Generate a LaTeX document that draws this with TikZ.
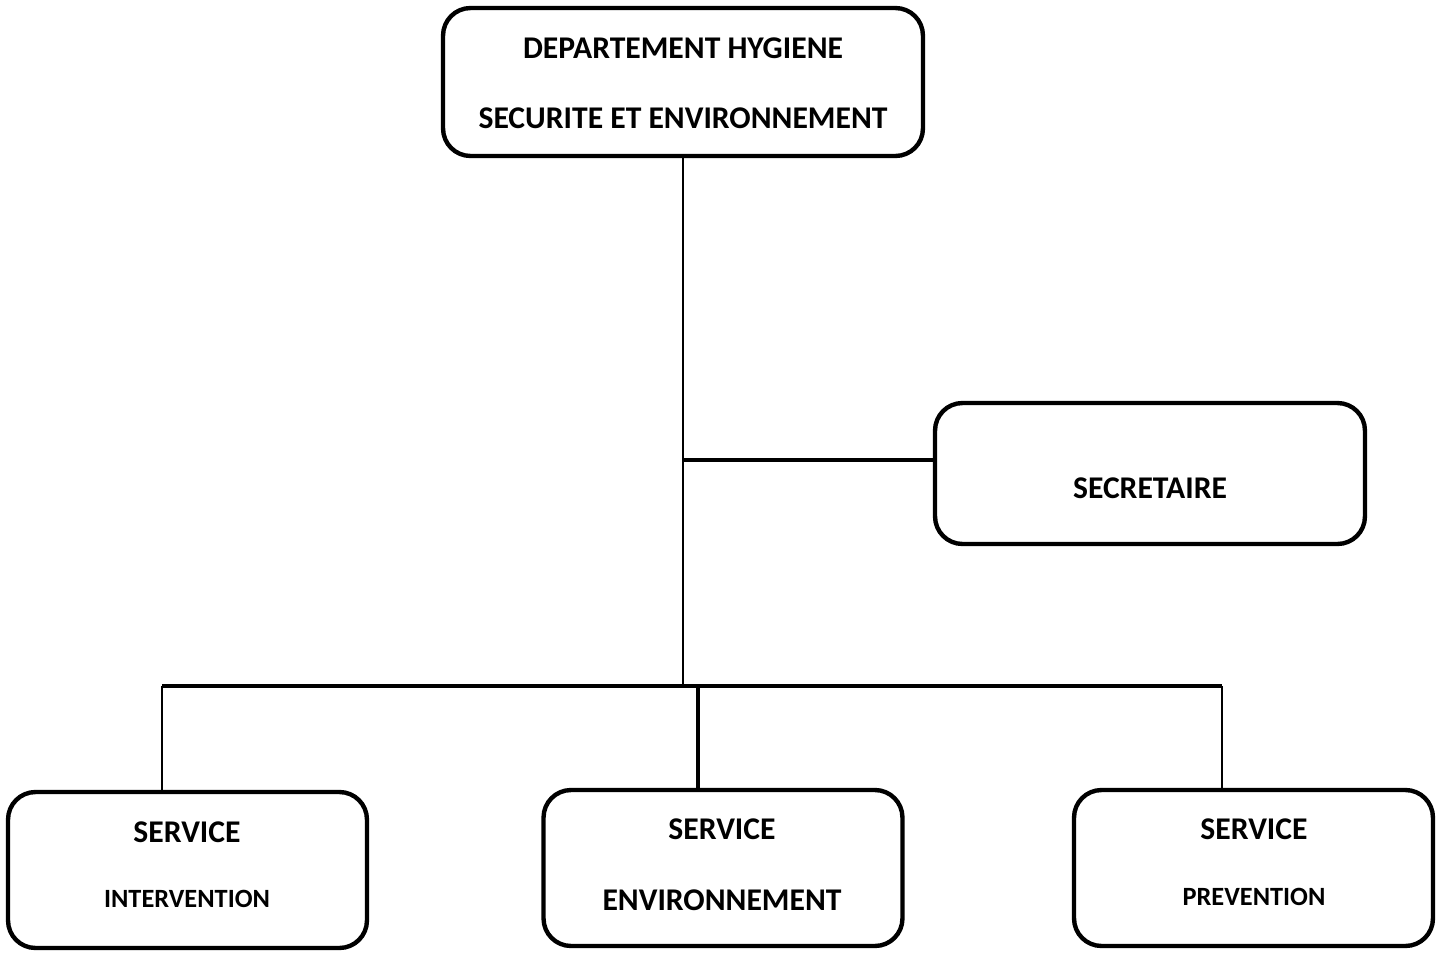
\documentclass[tikz,border=0pt]{standalone}
\usepackage{fontspec}
\setmainfont{Carlito}
\tikzset{
  unitbox/.style={draw, line width=2.5pt, rounded corners=0.55cm, inner sep=0pt},
  lbl/.style={font=\bfseries\fontsize{18}{20}\selectfont, inner sep=0pt},
  lblsmall/.style={font=\bfseries\fontsize{15}{17}\selectfont, inner sep=0pt},
  link/.style={line width=1.2pt},
  bus/.style={line width=1.8pt}
}
\begin{document}
\begin{tikzpicture}[x=0.02cm, y=-0.02cm]
    \useasboundingbox (0,0) rectangle (1438,954);

    % boxes
    \node[unitbox, minimum width=9.6cm, minimum height=2.96cm] (dept) at (683,82) {};
    \node[unitbox, minimum width=8.6cm, minimum height=2.82cm] (secr) at (1150,473.5) {};
    \node[unitbox, minimum width=7.18cm, minimum height=3.12cm] (inter) at (187.5,870) {};
    \node[unitbox, minimum width=7.18cm, minimum height=3.12cm] (envir) at (723,868) {};
    \node[unitbox, minimum width=7.18cm, minimum height=3.12cm] (prev) at (1253.5,868) {};

    % texts
    \node[lbl] (dept1) at (683,48) {DEPARTEMENT HYGIENE};
    \node[lbl] (dept2) at (683,118) {SECURITE ET ENVIRONNEMENT};
    \node[lbl] (secrtxt) at (1150,488) {SECRETAIRE};
    \node[lbl] (inter1) at (187,832) {SERVICE};
    \node[lblsmall] (inter2) at (187,899) {INTERVENTION};
    \node[lbl] (envir1) at (722,829) {SERVICE};
    \node[lbl] (envir2) at (722,900) {ENVIRONNEMENT};
    \node[lbl] (prev1) at (1254,829) {SERVICE};
    \node[lblsmall] (prev2) at (1254,897) {PREVENTION};

    % junctions
    \coordinate (jsec) at (683,460);
    \coordinate (jbus) at (683,686);
    \coordinate (bl) at (162,686);
    \coordinate (bm) at (698,686);
    \coordinate (br) at (1222,686);

    % connectors
    \draw[link] (dept.south) -- (jbus);
    \draw[bus] (jsec) -- (jsec -| secr.west);
    \draw[bus] (bl) -- (br);
    \draw[link] (bl) -- (bl |- inter.north);
    \draw[bus] (bm) -- (bm |- envir.north);
    \draw[link] (br) -- (br |- prev.north);
\end{tikzpicture}
\end{document}
